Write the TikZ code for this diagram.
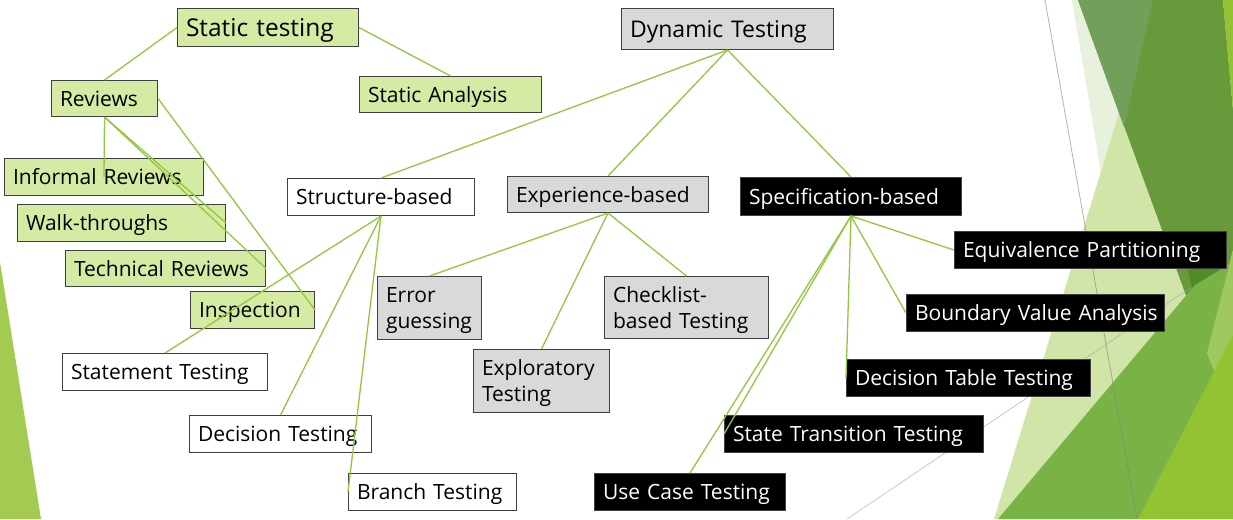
\documentclass[tikz,border=0pt]{standalone}
\usepackage{fontspec}
\setmainfont{Open Sans}
\definecolor{boxgreen}{HTML}{D5EAA2}
\definecolor{boxgrey}{HTML}{D9D9D9}
\definecolor{edgegrey}{HTML}{404040}
\definecolor{linkgreen}{HTML}{92C83E}
\definecolor{facetpale}{HTML}{E8F1DC}
\definecolor{facetlight}{HTML}{D2E5A8}
\definecolor{facetdark}{HTML}{689A3C}
\definecolor{facetdusk}{HTML}{72A05A}
\definecolor{facetdeep}{HTML}{4F8C27}
\definecolor{facetmid}{HTML}{79B346}
\definecolor{facetsoft}{HTML}{9FC95E}
\definecolor{facetbright}{HTML}{93C232}
\begin{document}
\begin{tikzpicture}[x=1pt, y=-1pt,
    box/.style={draw=edgegrey, line width=1pt, anchor=north west, inner xsep=8.5pt, inner ysep=0pt,
                align=left, text height=15pt, text depth=0pt, font=\fontsize{21}{26}\selectfont},
    twolines/.style={text depth=26pt},
    greenbox/.style={box, fill=boxgreen},
    greybox/.style={box, fill=boxgrey},
    whitebox/.style={box, fill=white},
    blackbox/.style={box, fill=black, text=white},
    link/.style={linkgreen, line width=1.3pt}]
    \useasboundingbox (0,0) rectangle (1233,519);
    \fill[white] (0,0) rectangle (1233,519);

    % Facets
    \fill[facetbright!85!white] (0,262) -- (41,519) -- (0,519) -- cycle;
    \fill[facetpale] (1072,0) -- (1233,0) -- (1233,519) -- (1159,519) -- cycle;
    \fill[facetlight] (994,519) -- (1119,113) -- (1233,260) -- (1233,519) -- cycle;
    \fill[facetdark] (1078,0) -- (1223,0) -- (1233,110) -- (1233,250) -- (1207,353) -- cycle;
    \fill[facetdusk] (1078,0) -- (1153,0) -- (1124,127) -- cycle;
    \fill[facetdeep] (1188,270) -- (1222,262) -- (1207,353) -- cycle;
    \fill[facetmid] (998,519) -- (1195,285) -- (1233,262) -- (1233,519) -- cycle;
    \fill[facetsoft] (1207,353) -- (1233,250) -- (1233,420) -- cycle;
    \fill[facetbright] (1138,519) -- (1233,335) -- (1233,519) -- cycle;
    \fill[facetbright] (1223,0) -- (1233,0) -- (1233,110) -- cycle;
    \draw[gray, opacity=.6, line width=.8pt] (1045,0) -- (1137,519);
    \draw[gray!70, opacity=.6, line width=.8pt] (847,519) -- (1190,288);

    % Static testing
    \node[greenbox, text width=164pt, minimum height=38pt, text height=18pt, font=\fontsize{24.5}{30}\selectfont] (stat) at (177,8) {Static testing};
    \node[greenbox, text width=165pt, minimum height=36pt] (sana) at (359,76) {Static Analysis};
    \node[greenbox, text width=89pt, minimum height=36pt] (rev) at (51,80) {Reviews};
    \node[greenbox, text width=182pt, minimum height=37pt] (inf) at (4,158) {Informal Reviews};
    \node[greenbox, text width=191pt, minimum height=37pt] (walk) at (17,204) {Walk-throughs};
    \node[greenbox, text width=183pt, minimum height=36pt] (tech) at (65,250) {Technical Reviews};
    \node[greenbox, text width=107pt, minimum height=37pt] (insp) at (190,291) {Inspection};

    % Dynamic testing
    \node[greybox, text width=195pt, minimum height=41pt, text height=16.5pt, font=\fontsize{23}{28}\selectfont] (dyn) at (621,8) {Dynamic Testing};
    \node[whitebox, text width=170pt, minimum height=37pt] (struc) at (287,178) {Structure-based};
    \node[greybox, text width=184pt, minimum height=36pt] (exper) at (507,176) {Experience-based};
    \node[blackbox, text width=204pt, minimum height=38pt] (spec) at (740,177) {Specification-based};

    % Structure-based techniques
    \node[whitebox, text width=188pt, minimum height=37pt] (stmt) at (62,353) {Statement Testing};
    \node[whitebox, text width=165pt, minimum height=37pt] (dect) at (189,415) {Decision Testing};
    \node[whitebox, text width=151pt, minimum height=37pt] (branch) at (348,473) {Branch Testing};

    % Experience-based techniques
    \node[greybox, twolines, text width=87pt, minimum height=63pt] (err) at (377,276) {Error\\guessing};
    \node[greybox, twolines, text width=147pt, minimum height=62pt] (check) at (604,276) {Checklist-\\based Testing};
    \node[greybox, twolines, text width=119pt, minimum height=63pt] (expl) at (473,349) {Exploratory\\Testing};

    % Specification-based techniques
    \node[blackbox, text width=255pt, minimum height=37pt] (equiv) at (954,231) {Equivalence Partitioning};
    \node[blackbox, text width=241pt, minimum height=37pt] (bva) at (906,294) {\mbox{Boundary Value Analysis}};
    \node[blackbox, text width=227pt, minimum height=37pt] (dtt) at (846,359) {Decision Table Testing};
    \node[blackbox, text width=242pt, minimum height=37pt] (stt) at (724,415) {State Transition Testing};
    \node[blackbox, text width=174pt, minimum height=37pt] (uct) at (594,473) {Use Case Testing};

    % Links
    \draw[link] (stat.west) -- (rev.north);
    \draw[link] (stat.east) -- (sana.north);
    \draw[link] (rev.south) -- (inf.center);
    \draw[link] (rev.south) -- (walk.east);
    \draw[link] (rev.south) -- (tech.east);
    \draw[link] (rev.east) -- (insp.east);

    \draw[link] (dyn.south) -- (struc.north);
    \draw[link] (dyn.south) -- (exper.north);
    \draw[link] (dyn.south) -- (spec.north);

    \draw[link] (struc.south) -- (stmt.north);
    \draw[link] (struc.south) -- (dect.north);
    \draw[link] (struc.south) -- (branch.west);

    \draw[link] (exper.south) -- (err.north);
    \draw[link] (exper.south) -- (expl.north);
    \draw[link] (exper.south) -- (check.north);

    \draw[link] (spec.south) -- (equiv.west);
    \draw[link] (spec.south) -- (bva.west);
    \draw[link] (spec.south) -- (dtt.west);
    \draw[link] (spec.south) -- (stt.west);
    \draw[link] (spec.south) -- (uct.north);
\end{tikzpicture}
\end{document}
